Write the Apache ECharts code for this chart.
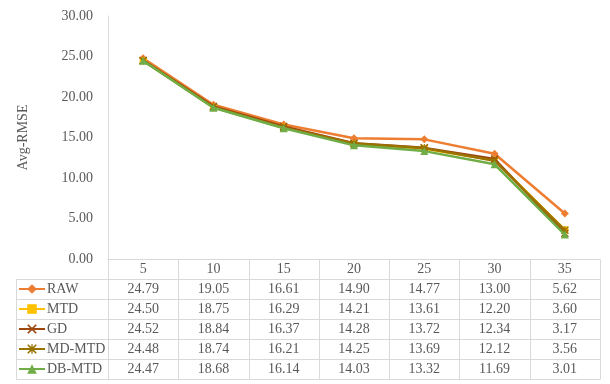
<!DOCTYPE html>
<html><head><meta charset="utf-8">
<script src="https://cdn.jsdelivr.net/npm/echarts@6/dist/echarts.min.js"></script>
<style>html,body{margin:0;padding:0;background:#fff}#c{width:610px;height:384px}</style>
</head><body><div id="c"></div>
<script>
const categories = ['5','10','15','20','25','30','35'];
const seriesNames = ['RAW','MTD','GD','MD-MTD','DB-MTD'];
const raw   = [24.79,19.05,16.61,14.90,14.77,13.00,5.62];
const mtd   = [24.50,18.75,16.29,14.21,13.61,12.20,3.60];
const gd    = [24.52,18.84,16.37,14.28,13.72,12.34,3.17];
const mdmtd = [24.48,18.74,16.21,14.25,13.69,12.12,3.56];
const dbmtd = [24.47,18.68,16.14,14.03,13.32,11.69,3.01];
const values = [raw, mtd, gd, mdmtd, dbmtd];
const yMin = 0, yMax = 30, yStep = 5;

const colors = ['#ED7D31','#FFC000','#9E480E','#997300','#70AD47'];
const symbols = ['diamond','rect',
  'path://M0,1.2 L1.2,0 L5,3.8 L8.8,0 L10,1.2 L6.2,5 L10,8.8 L8.8,10 L5,6.2 L1.2,10 L0,8.8 L3.8,5 Z',
  'path://M0,1.2 L1.2,0 L5,3.8 L8.8,0 L10,1.2 L6.2,5 L10,8.8 L8.8,10 L5,6.2 L1.2,10 L0,8.8 L3.8,5 Z M4.3,0 L5.7,0 L5.7,10 L4.3,10 Z',
  'triangle'];
const symSizes = [8,7,8,8,8];
const FONT = '"Liberation Serif","Times New Roman",serif';
const FS = 14;
const TXT = '#595959';
const LINE = '#D9D9D9';
const ROW_H = 20;

const chart = echarts.init(document.getElementById('c'), null, {renderer:'canvas'});
const legends = seriesNames.map((n,i)=>({
  data:[n], left: 18, top: 278 + ROW_H*i + 4, orient:'horizontal',
  itemWidth: 26, itemHeight: 12, itemGap: 4, padding: 0,
  textStyle:{fontFamily:FONT, fontSize:FS, color:TXT, padding:[0,0,0,-3]},
  selectedMode:false
}));
chart.setOption({
  animation:false,
  grid:{left:108, right:10, top:16, bottom:125, containLabel:false},
  xAxis:{type:'category', data:categories, boundaryGap:true,
    axisLine:{show:true, lineStyle:{color:LINE, width:1}},
    axisTick:{show:false}, axisLabel:{show:false}, splitLine:{show:false}},
  yAxis:{type:'value', min:yMin, max:yMax, interval:yStep,
    name:'Avg-RMSE', nameLocation:'middle', nameGap:78, nameRotate:90,
    nameTextStyle:{fontFamily:FONT, fontSize:FS, color:TXT},
    axisLine:{show:true, lineStyle:{color:LINE, width:1}},
    axisTick:{show:false}, splitLine:{show:false},
    axisLabel:{fontFamily:FONT, fontSize:FS, color:TXT, margin:15,
      formatter:v=>v.toFixed(2)}},
  legend: legends,
  series: seriesNames.map((n,i)=>({
    name:n, type:'line', data:values[i], symbol:symbols[i], symbolSize:symSizes[i],
    lineStyle:{color:colors[i], width:2.5}, itemStyle:{color:colors[i]},
    z: 10 + i
  }))
});

function drawTable(){
  const g = [];
  const c0 = chart.convertToPixel({xAxisIndex:0}, 0);
  const c1 = chart.convertToPixel({xAxisIndex:0}, 1);
  const band = c1 - c0;
  const xL = c0 - band/2;
  const xR = xL + band*categories.length;
  const yTop = chart.convertToPixel({yAxisIndex:0}, yMin);
  const nRows = seriesNames.length + 1;
  const tableLeft = 16;
  const ln = (x1,y1,x2,y2)=>g.push({type:'line', shape:{x1,y1,x2,y2}, style:{stroke:LINE, lineWidth:1}, silent:true});
  for(let r=0;r<=nRows;r++){
    const y = Math.round(yTop + r*ROW_H) + 0.5;
    ln(r===0? xL : tableLeft, y, xR, y);
  }
  const yBot = Math.round(yTop + nRows*ROW_H) + 0.5;
  ln(tableLeft+0.5, Math.round(yTop+ROW_H)+0.5, tableLeft+0.5, yBot);
  for(let k=0;k<=categories.length;k++){
    const x = Math.round(xL + k*band) + 0.5;
    ln(x, Math.round(yTop)+0.5, x, yBot);
  }
  categories.forEach((cat,k)=>{
    const cx = chart.convertToPixel({xAxisIndex:0}, k);
    g.push({type:'text', x:cx, y:yTop + ROW_H/2, silent:true,
      style:{text:cat, font:FS+'px '+FONT, fill:TXT, align:'center', verticalAlign:'middle'}});
    values.forEach((arr,i)=>{
      g.push({type:'text', x:cx, y:yTop + ROW_H*(i+1) + ROW_H/2, silent:true,
        style:{text:arr[k].toFixed(2), font:FS+'px '+FONT, fill:TXT, align:'center', verticalAlign:'middle'}});
    });
  });
  chart.setOption({graphic:{elements:g}});
}
drawTable();
</script></body></html>
